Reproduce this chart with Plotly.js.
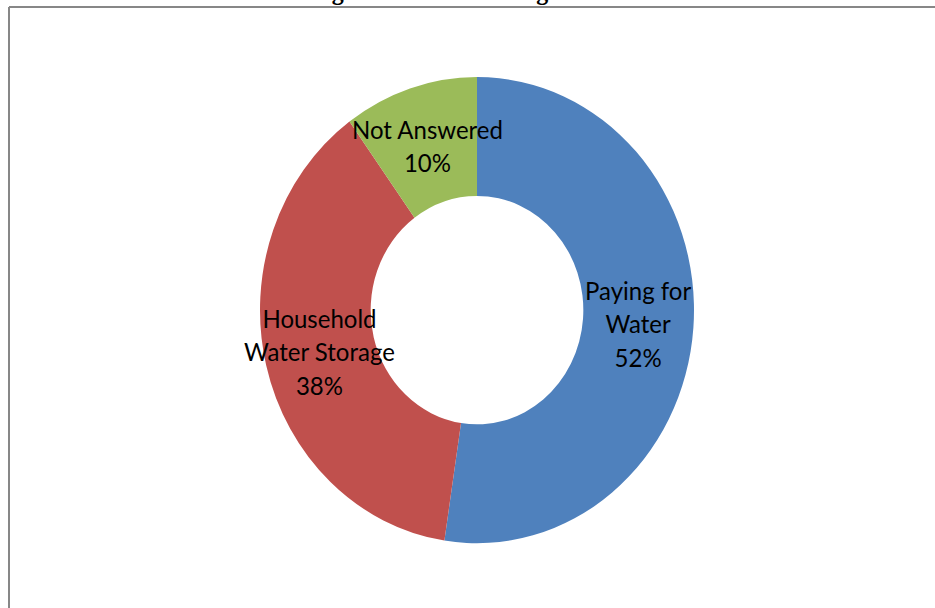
<!DOCTYPE html>
<html>
<head>
<meta charset="utf-8">
<script src="https://cdn.plot.ly/plotly-3.0.1.min.js"></script>
<style>
html,body{margin:0;padding:0;background:#fff;overflow:hidden;}
#wrap{width:935px;height:608px;overflow:hidden;position:relative;}
#chart{width:935px;height:566px;transform:scaleY(1.0742);transform-origin:0 0;}
</style>
</head>
<body>
<div id="wrap"><div id="chart"></div></div>
<script>
const categories = ["Paying for Water", "Household Water Storage", "Not Answered"];
const labelLines = ["Paying for<br>Water", "Household<br>Water Storage", "Not Answered"];
const values = [52.4, 37.6, 10.0];
const colors = ["#4F81BD", "#C0504D", "#9BBB59"];
const titleText = "Figure 4: Water Saving Measure";

const W = 935, H = 566;
const cx = 477, cy = 288.7, R = 217, holeFrac = 0.49;
const dom = {x: [(cx - R) / W, (cx + R) / W], y: [1 - (cy + R) / H, 1 - (cy - R) / H]};

const total = values.reduce((a, b) => a + b, 0);
const rMid = R * (1 + holeFrac) / 2;
let cum = 0;
const annotations = values.map((v, i) => {
  const mid = (cum + v / 2) / total * 2 * Math.PI;
  cum += v;
  const px = cx + rMid * Math.sin(mid);
  const py = cy - rMid * Math.cos(mid);
  return {
    x: px / W, y: 1 - py / H, xref: "paper", yref: "paper",
    text: labelLines[i] + "<br>" + Math.round(v / total * 100) + "%",
    showarrow: false, xanchor: "center", yanchor: "middle",
    font: {family: "Lato, 'Open Sans', sans-serif", size: 24, color: "#000"}
  };
});

const trace = {
  type: "pie",
  labels: categories,
  values: values,
  hole: holeFrac,
  sort: false,
  direction: "clockwise",
  rotation: 0,
  textinfo: "none",
  marker: {colors: colors, line: {width: 0}},
  domain: dom,
  showlegend: false,
  hoverinfo: "label+percent"
};

const layout = {
  width: W, height: H,
  margin: {l: 0, r: 0, t: 0, b: 0},
  paper_bgcolor: "#fff",
  showlegend: false,
  title: {
    text: "<b>" + titleText + "</b>",
    font: {family: "'Liberation Serif', 'Times New Roman', serif", size: 24, color: "#000"},
    x: 0.51, xanchor: "center", y: 1.004, yanchor: "bottom", yref: "container"
  },
  annotations: annotations,
  shapes: [
    {type: "line", xref: "paper", yref: "paper", x0: 9 / W, x1: 1.01, y0: 1 - 6.5 / H, y1: 1 - 6.5 / H, line: {color: "#878787", width: 2}},
    {type: "line", xref: "paper", yref: "paper", x0: 9 / W, x1: 9 / W, y0: 1 - 6.5 / H, y1: -0.01, line: {color: "#878787", width: 2}}
  ]
};

Plotly.newPlot("chart", [trace], layout, {displayModeBar: false, staticPlot: true});
</script>
</body>
</html>
